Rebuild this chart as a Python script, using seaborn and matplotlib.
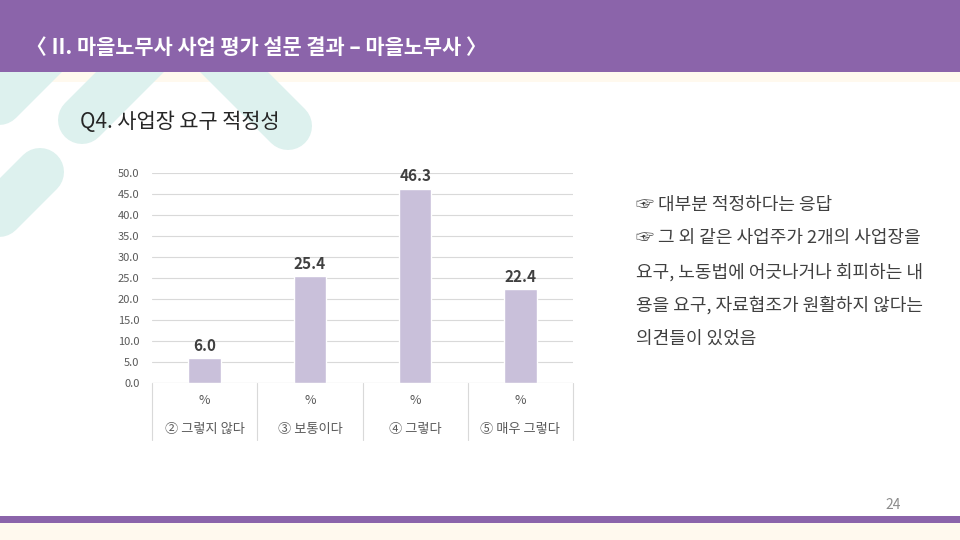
import matplotlib
matplotlib.use("Agg")
import matplotlib.pyplot as plt
import matplotlib.transforms as mtransforms
from matplotlib.patches import Rectangle
import seaborn as sns
import pandas as pd

# ---- data ----
categories = ['② 그렇지 않다', '③ 보통이다', '④ 그렇다', '⑤ 매우 그렇다']
values = [6.0, 25.4, 46.3, 22.4]
unit_row = ['%', '%', '%', '%']
yticks = [0, 5, 10, 15, 20, 25, 30, 35, 40, 45, 50]

header_text = '〈 II. 마을노무사 사업 평가 설문 결과 – 마을노무사 〉'
title_text = 'Q4. 사업장 요구 적정성'
note_lines = ['☞ 대부분 적정하다는 응답',
              '☞ 그 외 같은 사업주가 2개의 사업장을',
              '요구, 노동법에 어긋나거나 회피하는 내',
              '용을 요구, 자료협조가 원활하지 않다는',
              '의견들이 있었음']
page_no = '24'

sns.set_theme(style='white')
plt.rcParams['font.family'] = ['Noto Sans CJK KR', 'DejaVu Sans']

PURPLE = '#8B64AA'
BAR = '#C9C0DA'
TEAL = '#DDF1EE'
CREAM = '#FFF9EE'
DARK = '#404040'
GRID = '#D9D9D9'

fig = plt.figure(figsize=(9.6, 5.4), dpi=100)
fig.patch.set_facecolor('white')

# background layer in pixel coordinates
bg = fig.add_axes([0, 0, 1, 1], zorder=0)
bg.set_xlim(0, 960)
bg.set_ylim(540, 0)
bg.axis('off')
bg.add_patch(Rectangle((0, 72), 960, 10, color=CREAM, lw=0))
lw = 48 * 0.72
for (x0, y0, x1, y1) in [(-80, 180, 120, -20),
                         (82, 120, 200, 2),
                         (288, 126, 170, 8),
                         (40, 172, -100, 312)]:
    bg.plot([x0, x1], [y0, y1], color=TEAL, lw=lw, solid_capstyle='round', zorder=1)
bg.add_patch(Rectangle((0, 0), 960, 72, color=PURPLE, lw=0, zorder=2))
bg.add_patch(Rectangle((0, 516), 960, 7, color=PURPLE, lw=0, zorder=2))
bg.add_patch(Rectangle((0, 523), 960, 17, color=CREAM, lw=0, zorder=2))
bg.text(26, 47, header_text, color='white', fontsize=15, fontweight='bold',
        va='center', ha='left', zorder=3)
bg.text(80, 122, title_text, color='#262626', fontsize=15, va='center', ha='left', zorder=3)
ys = [205, 238, 272, 305, 339]
for t, y in zip(note_lines, ys):
    bg.text(636, y, t, color=DARK, fontsize=13, va='center', ha='left', zorder=3)
bg.text(893, 505, page_no, color='#8C8C8C', fontsize=10, va='center', ha='center', zorder=3)

# chart
L, R, T, B = 152, 573, 173, 383
ax = fig.add_axes([L / 960, (540 - B) / 540, (R - L) / 960, (B - T) / 540], zorder=5)
ax.set_facecolor('none')
df = pd.DataFrame({'cat': categories, 'val': values})
sns.barplot(data=df, x='cat', y='val', color=BAR, saturation=1, width=0.31, ax=ax, zorder=3)
ax.set_xlim(-0.5, 3.5)
ax.set_ylim(0, 50)
ax.set_yticks(yticks)
ax.set_yticklabels([f'{v:.1f}' for v in yticks], fontsize=8, color='#595959')
ax.tick_params(axis='y', length=0, pad=9)
ax.set_xticks([])
ax.set_xlabel('')
ax.set_ylabel('')
ax.grid(axis='y', color=GRID, lw=0.8, zorder=0)
for s in ax.spines.values():
    s.set_visible(False)
ax.axhline(0, color=GRID, lw=0.8, zorder=4)
ax.bar_label(ax.containers[0], fmt='%.1f', fontsize=11, fontweight='bold',
             color=DARK, padding=3)

trans = mtransforms.blended_transform_factory(ax.transData, ax.transAxes)
depth = 57 / (B - T)
for xb in [-0.5, 0.5, 1.5, 2.5, 3.5]:
    ax.plot([xb, xb], [0, -depth], transform=trans, color=GRID, lw=0.8, clip_on=False)
for i, (u, c) in enumerate(zip(unit_row, categories)):
    ax.text(i, -18 / (B - T), u, transform=trans, ha='center', va='center',
            fontsize=9, color='#595959')
    ax.text(i, -46 / (B - T), c, transform=trans, ha='center', va='center',
            fontsize=9.5, color='#595959')

fig.savefig('out.png', dpi=100)
